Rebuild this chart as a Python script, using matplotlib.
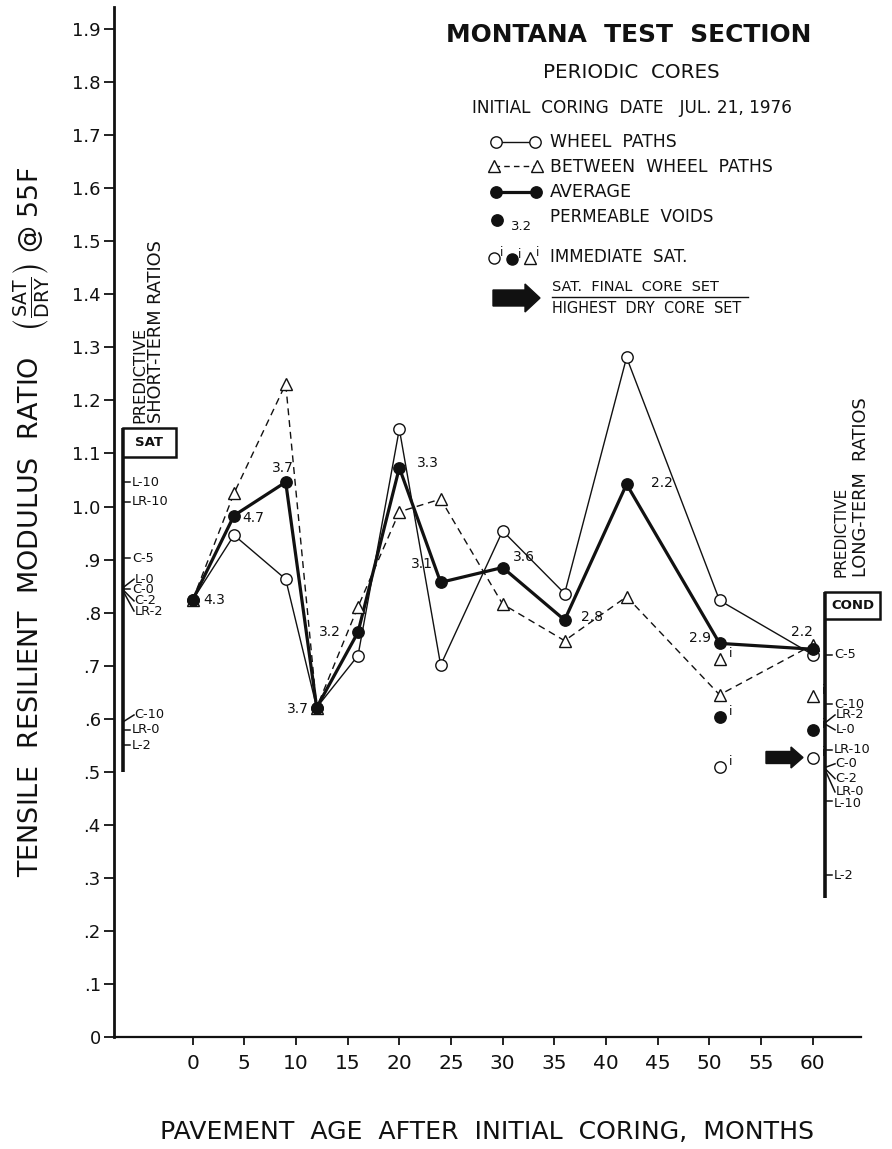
import matplotlib
matplotlib.use('Agg')
import matplotlib.pyplot as plt
from matplotlib.patches import Rectangle, FancyArrow

plt.rcParams['font.family'] = ['DejaVu Sans']
plt.rcParams['mathtext.fontset'] = 'dejavusans'

# ---------------- data ----------------
months = [0, 4, 9, 12, 16, 20, 24, 30, 36, 42, 51, 60]
wheel_paths = [0.824, 0.946, 0.863, 0.621, 0.719, 1.146, 0.701, 0.954, 0.836, 1.281, 0.823, 0.721]
between_wheel_paths = [0.824, 1.025, 1.231, 0.621, 0.811, 0.990, 1.014, 0.816, 0.747, 0.830, 0.645, 0.739]
average = [0.824, 0.983, 1.046, 0.621, 0.763, 1.073, 0.857, 0.885, 0.786, 1.042, 0.742, 0.731]
permeable_voids = ['4.3', '4.7', '3.7', '3.7', '3.2', '3.3', '3.1', '3.6', '2.8', '2.2', '2.9', '2.2']

immediate_months = [51, 60]
immediate_wheel = [0.509, 0.525]
immediate_average = [0.604, 0.579]
immediate_between = [0.712, 0.643]

sat_labels = ['L-10', 'LR-10', 'C-5', 'L-0', 'C-0', 'C-2', 'LR-2', 'C-10', 'LR-0', 'L-2']
sat_values = [1.046, 1.009, 0.902, 0.847, 0.845, 0.843, 0.841, 0.594, 0.579, 0.550]
cond_labels = ['C-5', 'C-10', 'LR-2', 'L-0', 'LR-10', 'C-0', 'C-2', 'LR-0', 'L-10', 'L-2']
cond_values = [0.721, 0.627, 0.592, 0.590, 0.541, 0.508, 0.506, 0.504, 0.444, 0.305]

x_ticks = [0, 5, 10, 15, 20, 25, 30, 35, 40, 45, 50, 55, 60]
y_ticks = [0.0, 0.1, 0.2, 0.3, 0.4, 0.5, 0.6, 0.7, 0.8, 0.9, 1.0,
           1.1, 1.2, 1.3, 1.4, 1.5, 1.6, 1.7, 1.8, 1.9]
y_tick_labels = ['0', '.1', '.2', '.3', '.4', '.5', '.6', '.7', '.8', '.9', '1.0',
                 '1.1', '1.2', '1.3', '1.4', '1.5', '1.6', '1.7', '1.8', '1.9']

# ---------------- layout ----------------
W, H = 892, 1149
K = '#111111'
fig = plt.figure(figsize=(W / 100, H / 100), dpi=100)
fig.patch.set_facecolor('white')

AX_L, AX_R, AX_B, AX_T = 114, 861, 1037, 7
ax = fig.add_axes([AX_L / W, 1 - AX_B / H, (AX_R - AX_L) / W, (AX_B - AX_T) / H])
XMIN, XMAX = -7.62, 64.69
YMIN, YMAX = 0.0, (AX_B - AX_T) / 530.5
ax.set_xlim(XMIN, XMAX)
ax.set_ylim(YMIN, YMAX)

def mx(px):  # pixel x -> month
    return XMIN + (px - AX_L) * (XMAX - XMIN) / (AX_R - AX_L)

def dmx(dpx):
    return dpx * (XMAX - XMIN) / (AX_R - AX_L)

def dvy(dpx):
    return dpx / 530.5

for s in ['top', 'right']:
    ax.spines[s].set_visible(False)
ax.spines['left'].set_linewidth(2.0)
ax.spines['bottom'].set_linewidth(1.6)
ax.spines['left'].set_color(K)
ax.spines['bottom'].set_color(K)
ax.set_xticks(x_ticks)
ax.set_xticklabels([str(v) for v in x_ticks])
ax.set_yticks(y_ticks)
ax.set_yticklabels(y_tick_labels)
ax.tick_params(axis='y', direction='out', length=7, width=1.3, pad=2.5, labelsize=13, colors=K)
ax.tick_params(axis='x', direction='out', length=6, width=1.3, pad=6.5, labelsize=14.5, colors=K)
ax.patch.set_alpha(0)

# series
ax.plot(months, wheel_paths, color=K, lw=1.0, zorder=3)
ax.plot(months, between_wheel_paths, color=K, lw=1.0, ls=(0, (5, 3.5)), zorder=3)
ax.plot(months, average, color=K, lw=2.3, zorder=4)
ax.plot(months, wheel_paths, ls='none', marker='o', ms=8.2, mfc='white', mec=K, mew=1.0, zorder=5)
ax.plot(months, between_wheel_paths, ls='none', marker='^', ms=9, mfc='white', mec=K, mew=1.0, zorder=5)
ax.plot(months, average, ls='none', marker='o', ms=8.2, mfc=K, mec=K, zorder=6)

# permeable voids labels (pixel offsets: right, down)
pv_off = [(22, 0), (19, 2), (-3, -14), (-19, 1), (-28, 0), (29, -5),
          (-19, -18), (21, -11), (27, -3), (35, -1), (-20, -5), (-11, -17)]
for m, v, lab, (ox, oy) in zip(months, average, permeable_voids, pv_off):
    ax.annotate(lab, (m, v), xytext=(ox / 1.389, -oy / 1.389), textcoords='offset points',
                ha='center', va='center', fontsize=10, color=K, zorder=7)

# immediate saturation points
ax.plot(immediate_months, immediate_wheel, ls='none', marker='o', ms=8.2, mfc='white', mec=K, mew=1.0, zorder=5)
ax.plot(immediate_months, immediate_average, ls='none', marker='o', ms=8.2, mfc=K, mec=K, zorder=5)
ax.plot(immediate_months, immediate_between, ls='none', marker='^', ms=9, mfc='white', mec=K, mew=1.0, zorder=5)
for series in (immediate_wheel, immediate_average, immediate_between):
    for m, v in zip(immediate_months, series):
        ax.annotate('i', (m, v), xytext=(7, 4), textcoords='offset points',
                    ha='left', va='center', fontsize=9, color=K, zorder=7)

# arrow pointing to final core set
ax.add_patch(FancyArrow(mx(766), immediate_wheel[1] + dvy(1), dmx(37), 0,
                        width=dvy(12), head_width=dvy(21), head_length=dmx(12),
                        length_includes_head=True, color=K, zorder=6, clip_on=False))

LAB_FS = 9.3

# ---- SAT bracket (left) ----
sx = mx(123)
ax.plot([sx, sx], [0.50, 1.148], color=K, lw=2.6, solid_capstyle='butt', clip_on=False, zorder=4)
ax.add_patch(Rectangle((sx, 1.093), dmx(53), 0.055, fill=True, fc='white', ec=K, lw=1.8,
                       clip_on=False, zorder=5))
ax.text(sx + dmx(26.5), 1.1205, 'SAT', ha='center', va='center', fontsize=9.5,
        fontweight='bold', color=K, zorder=6)
sat_label_y = [1.046, 1.009, 0.902, 0.863, 0.843, 0.822, 0.803, 0.607, 0.579, 0.550]
for lab, v, ly in zip(sat_labels, sat_values, sat_label_y):
    if abs(v - ly) < 0.004:
        ax.plot([sx, sx + dmx(7)], [v, v], color=K, lw=1.1, clip_on=False, zorder=4)
        tx = sx + dmx(9)
    else:
        ax.plot([sx, sx + dmx(11)], [v, ly], color=K, lw=1.1, clip_on=False, zorder=4)
        tx = sx + dmx(11.5)
    ax.text(tx, ly, lab, ha='left', va='center', fontsize=LAB_FS, color=K, zorder=6)

# ---- COND bracket (right) ----
cx = mx(825)
ax.plot([cx, cx], [0.262, 0.839], color=K, lw=2.6, solid_capstyle='butt', clip_on=False, zorder=4)
ax.add_patch(Rectangle((cx, 0.787), dmx(55), 0.052, fill=True, fc='white', ec=K, lw=1.8,
                       clip_on=False, zorder=5))
ax.text(cx + dmx(27.5), 0.813, 'COND', ha='center', va='center', fontsize=9.5,
        fontweight='bold', color=K, zorder=6)
cond_label_y = [0.721, 0.627, 0.607, 0.579, 0.541, 0.515, 0.487, 0.462, 0.440, 0.305]
for lab, v, ly in zip(cond_labels, cond_values, cond_label_y):
    if abs(v - ly) < 0.005:
        ax.plot([cx, cx + dmx(7)], [v, v], color=K, lw=1.1, clip_on=False, zorder=4)
        tx = cx + dmx(9)
    else:
        ax.plot([cx, cx + dmx(10)], [v, ly], color=K, lw=1.1, clip_on=False, zorder=4)
        tx = cx + dmx(10.5)
    ax.text(tx, ly, lab, ha='left', va='center', fontsize=LAB_FS, color=K, zorder=6)

# ---------------- overlay (pixel coordinates) ----------------
ov = fig.add_axes([0, 0, 1, 1], zorder=5)
ov.set_xlim(0, W)
ov.set_ylim(H, 0)
ov.axis('off')
ov.patch.set_alpha(0)

fits = []
def T(x, y, s, L, dim='w', **kw):
    kw.setdefault('color', K)
    kw.setdefault('fontsize', 12)
    t = ov.text(x, y, s, **kw)
    fits.append((t, L, dim))
    return t

T(629, 35, 'MONTANA  TEST  SECTION', 365, ha='center', va='center', fontweight='bold')
T(631.5, 73, 'PERIODIC  CORES', 177, ha='center', va='center')
T(631.7, 108, 'INITIAL  CORING  DATE   JUL. 21, 1976', 320, ha='center', va='center')
T(550, 141.7, 'WHEEL  PATHS', 127, ha='left', va='center')
T(550, 166.7, 'BETWEEN  WHEEL  PATHS', 222, ha='left', va='center')
T(550, 191.7, 'AVERAGE', 82, ha='left', va='center')
T(550, 216.7, 'PERMEABLE  VOIDS', 163, ha='left', va='center')
T(550, 257.3, 'IMMEDIATE  SAT.', 138, ha='left', va='center')
T(551.7, 286.7, 'SAT.  FINAL  CORE  SET', 167, ha='left', va='center')
T(551.7, 308.3, 'HIGHEST  DRY  CORE  SET', 191, ha='left', va='center')
ov.plot([551.7, 748.3], [296.7, 296.7], color=K, lw=1.0)

# legend glyphs
ov.plot([496, 535], [141.7, 141.7], color=K, lw=1.0, marker='o', ms=8.2, mfc='white', mec=K, mew=1.0)
ov.plot([494, 537], [165.5, 165.5], color=K, lw=1.0, ls=(0, (4, 3)), marker='^', ms=8.5,
        mfc='white', mec=K, mew=1.0)
ov.plot([496, 536], [191.7, 191.7], color=K, lw=2.3, marker='o', ms=8.2, mfc=K, mec=K)
ov.plot([497], [220], ls='none', marker='o', ms=8.2, mfc=K, mec=K)
ov.text(511, 226, '3.2', ha='left', va='center', fontsize=9.5, color=K)
ov.plot([494], [257.5], ls='none', marker='o', ms=8, mfc='white', mec=K, mew=1.0)
ov.text(500, 253, 'i', ha='left', va='center', fontsize=8.5, color=K)
ov.plot([512], [258.5], ls='none', marker='o', ms=8, mfc=K, mec=K)
ov.text(518, 254, 'i', ha='left', va='center', fontsize=8.5, color=K)
ov.plot([530], [257.5], ls='none', marker='^', ms=8.5, mfc='white', mec=K, mew=1.0)
ov.text(536, 253, 'i', ha='left', va='center', fontsize=8.5, color=K)
ov.add_patch(FancyArrow(493, 298, 47, 0, width=16, head_width=28, head_length=15,
                        length_includes_head=True, color=K))

# rotated bracket titles
T(140, 423, 'PREDICTIVE', 96, dim='h', rotation=90, ha='center', va='bottom')
T(156, 423, 'SHORT-TERM RATIOS', 183, dim='h', rotation=90, ha='center', va='bottom')
T(841, 577, 'PREDICTIVE', 90, dim='h', rotation=90, ha='center', va='bottom')
T(861, 577, 'LONG-TERM  RATIOS', 180, dim='h', rotation=90, ha='center', va='bottom')

# axis labels
T(32, 522, r'TENSILE  RESILIENT  MODULUS  RATIO   $\left(\frac{\mathrm{SAT}}{\mathrm{DRY}}\right)$ @ 55F',
  708, dim='h', rotation=90, ha='center', va='center')
T(486.5, 1132, 'PAVEMENT  AGE  AFTER  INITIAL  CORING,  MONTHS', 653, ha='center', va='center')

for _ in range(2):
    fig.canvas.draw()
    r = fig.canvas.get_renderer()
    for t, L, dim in fits:
        bb = t.get_window_extent(r)
        cur = bb.width if dim == 'w' else bb.height
        t.set_fontsize(t.get_fontsize() * L / cur)

fig.savefig('out.png', dpi=100, facecolor='white')
